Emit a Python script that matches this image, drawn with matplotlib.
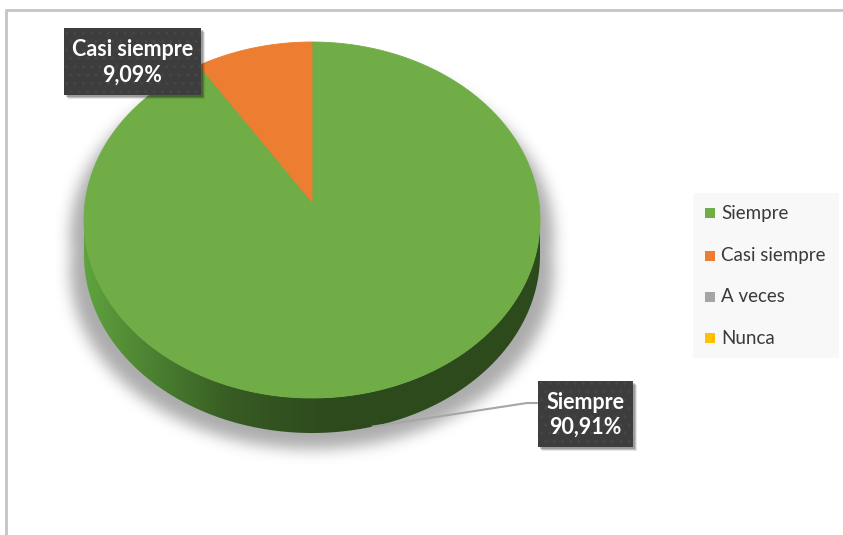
import numpy as np
import matplotlib
matplotlib.use("Agg")
import matplotlib.pyplot as plt
from matplotlib.path import Path
from matplotlib.patches import Polygon, Rectangle

# survey answers (percent)
categories = ["Siempre", "Casi siempre", "A veces", "Nunca"]
values = [90.91, 9.09, 0.0, 0.0]
colors = ["#70AD47", "#ED7D31", "#A5A5A5", "#FFC000"]

W, H = 843, 535
plt.rcParams["font.family"] = ["Lato", "DejaVu Sans"]

fig = plt.figure(figsize=(W / 100, H / 100), dpi=100)
ax = fig.add_axes([0, 0, 1, 1])
ax.set_xlim(0, W)
ax.set_ylim(H, 0)
ax.axis("off")

# pie geometry in pixels (top face ellipse, thickness, perspective)
CX, CY, RX, RY = 312, 220, 228, 178
DEPTH = 35
APEX_Y = 202
a = np.arctanh((CY - APEX_Y) / RY)


def rim(phi, dy=0.0):
    s, c = np.sin(phi), np.cos(phi)
    den = s * np.sinh(a) + np.cosh(a)
    xn = c / den
    yn = (s * np.cosh(a) + np.sinh(a)) / den
    return CX + RX * xn, CY - RY * yn + dy


apex = (CX, CY - RY * np.tanh(a))

# chart frame
ax.plot([5, W], [10, 10], color="#c4c4c4", lw=2, solid_capstyle="butt")
ax.plot([6, 6], [10, H], color="#c4c4c4", lw=2, solid_capstyle="butt")

# soft drop shadow under the pie
full = np.linspace(0, 2 * np.pi, 400)
tx, ty = rim(full)
bx, by = rim(full, DEPTH)
gx, gy = np.meshgrid(np.arange(W) + 0.5, np.arange(H) + 0.5)
# scale the silhouette sideways and push it down before blurring
sx = CX + (gx - CX) / 1.06
sy = gy - 16
grid = np.column_stack([sx.ravel(), sy.ravel()])
mask = (Path(np.column_stack([tx, ty])).contains_points(grid) |
        Path(np.column_stack([bx, by])).contains_points(grid))
mask = mask.reshape(H, W).astype(float)
sig = 7.5
k = np.exp(-0.5 * (np.arange(-25, 26) / sig) ** 2)
k /= k.sum()
mask = np.apply_along_axis(lambda r: np.convolve(r, k, mode="same"), 1, mask)
mask = np.apply_along_axis(lambda c: np.convolve(c, k, mode="same"), 0, mask)
shadow = np.zeros((H, W, 4))
shadow[..., 3] = mask * 0.33
ax.imshow(shadow, extent=(0, W, H, 0), interpolation="bilinear", zorder=1)

# slices: clockwise from 12 o'clock
fracs = np.array(values) / sum(values)
starts = np.pi / 2 - 2 * np.pi * np.concatenate([[0], np.cumsum(fracs)[:-1]])
ends = starts - 2 * np.pi * fracs

# side wall (front half only), shaded left to right
front_lo = np.pi + np.arcsin(np.tanh(a))
front_hi = 2 * np.pi - np.arcsin(np.tanh(a))
side_stops = [(85, "#5fa23e"), (150, "#4c8232"), (230, "#375c23"), (320, "#2e4b1d"), (545, "#2d4a1c")]
grad_x = np.arange(W)
sxs = [p[0] for p in side_stops]
rgb = np.array([matplotlib.colors.to_rgb(p[1]) for p in side_stops])
grad = np.stack([np.interp(grad_x, sxs, rgb[:, i]) for i in range(3)], axis=-1)[None, :, :]

for st, en, v in zip(starts, ends, values):
    if v <= 0:
        continue
    lo, hi = en, st
    for shift in (0, 2 * np.pi, -2 * np.pi):
        l2, h2 = max(lo + shift, front_lo), min(hi + shift, front_hi)
        if h2 <= l2:
            continue
        ph = np.linspace(l2, h2, 200)
        px, py = rim(ph)
        qx, qy = rim(ph[::-1], DEPTH)
        poly = Polygon(np.column_stack([np.r_[px, qx], np.r_[py, qy]]), closed=True,
                       facecolor="none", edgecolor="none")
        ax.add_patch(poly)
        im = ax.imshow(grad, extent=(0, W, H, 0), aspect="auto", zorder=2)
        im.set_clip_path(poly)

# top face
for st, en, v, col in zip(starts, ends, values, colors):
    if v <= 0:
        continue
    ph = np.linspace(st, en, 300)
    px, py = rim(ph)
    pts = np.vstack([[apex], np.column_stack([px, py])])
    ax.add_patch(Polygon(pts, closed=True, facecolor=col, edgecolor=col, lw=0.6, zorder=3))

# data labels
label_boxes = {"Casi siempre": (64, 28, 137, 67), "Siempre": (538, 381, 95, 66)}
for cat, v in zip(categories, values):
    if cat not in label_boxes:
        continue
    x0, y0, bw, bh = label_boxes[cat]
    for off, al in [(4, 0.10), (3, 0.15), (2, 0.2)]:
        ax.add_patch(Rectangle((x0 + off, y0 + off), bw, bh, facecolor="black", alpha=al,
                               lw=0, zorder=5))
    ax.add_patch(Rectangle((x0, y0), bw, bh, facecolor="#3d3d3d", lw=0, zorder=6))
    ax.add_patch(Rectangle((x0, y0), bw, bh, facecolor="none", edgecolor="#464646",
                           hatch="..", lw=0, zorder=6))
    txt = "{}\n{:.2f}%".format(cat, v).replace(".", ",")
    ax.text(x0 + bw / 2, y0 + bh / 2 + 1, txt, ha="center", va="center", color="white",
            fontsize=15.5, fontweight="bold", linespacing=1.25, zorder=7)

# leader line for the big slice
lx, ly = rim(np.deg2rad(284), DEPTH)
ax.plot([lx, 527, 538], [ly, 403, 403], color="#a6a6a6", lw=1.5, zorder=4)

# legend
ax.add_patch(Rectangle((693, 193), 146, 165, facecolor="#f8f8f8", lw=0, zorder=1))
leg_y = [213, 256, 297, 338]
for cat, col, yy in zip(categories, colors, leg_y):
    ax.add_patch(Rectangle((705, yy - 5), 10, 10, facecolor=col, lw=0, zorder=2))
    ax.text(721, yy, cat, ha="left", va="center", color="#3a3a3a", fontsize=13.5, zorder=2)

fig.savefig("out.png", dpi=100)
